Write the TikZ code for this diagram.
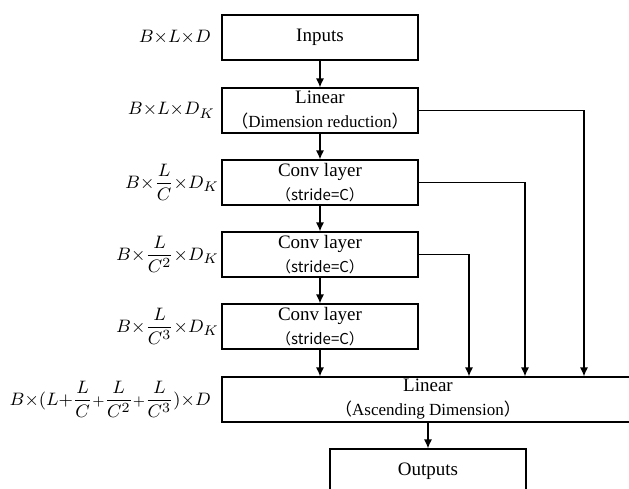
\documentclass[tikz,border=0pt]{standalone}
\usepackage{fontspec}
\setmainfont{Liberation Serif}
\newfontfamily\cjk{Noto Sans CJK SC}
\usepackage{amsmath}
\usetikzlibrary{arrows.meta,positioning}

\newcommand{\tm}{{\times}}

\begin{document}
\begin{tikzpicture}[
    x=0.5pt,y=-0.5pt,
    >={Latex[length=4.5pt,width=4pt]},
    line width=0.6pt,
    every node/.style={font=\fontsize{9.5}{11}\selectfont},
    layer/.style={draw,rectangle,minimum width=98pt,minimum height=22.5pt,
                  align=center,inner sep=0pt},
    shape lab/.style={inner sep=0pt,font=\fontsize{9.5}{11}\selectfont}
]

\useasboundingbox (0,0) rectangle (629,489);
\clip (0,0) rectangle (629,489);

% main column
\node[layer] (inp)  at (320,37.5)  {Inputs};
\node[layer] (lin)  at (320,110.5) {Linear\\[1pt]{\fontsize{8.5}{10}\selectfont\cjk （\rmfamily Dimension reduction\cjk ）}};
\node[layer] (cv1)  at (320,182.5) {Conv layer\\[1pt]{\fontsize{7.5}{10}\selectfont\cjk （stride=C）}};
\node[layer] (cv2)  at (320,254.5) {Conv layer\\[1pt]{\fontsize{7.5}{10}\selectfont\cjk （stride=C）}};
\node[layer] (cv3)  at (320,326.5) {Conv layer\\[1pt]{\fontsize{7.5}{10}\selectfont\cjk （stride=C）}};
\node[layer,minimum width=206pt] (up) at (428,399.5)
    {Linear\\[1pt]{\fontsize{8.5}{10}\selectfont\cjk （\rmfamily Ascending Dimension\cjk ）}};
\node[layer] (out)  at (428,471.5) {Outputs};

% shape labels
\node[shape lab,left=5pt of inp] (s0) {$B\tm L\tm D$};
\node[shape lab,left=3pt of lin] (s1) {$B\tm L\tm D_K$};
\node[shape lab,left=1pt of cv1] (s2) {$B\tm\dfrac{L}{C}\tm D_K$};
\node[shape lab,left=1pt of cv2] (s3) {$B\tm\dfrac{L}{C^2}\tm D_K$};
\node[shape lab,left=1pt of cv3] (s4) {$B\tm\dfrac{L}{C^3}\tm D_K$};
\node[shape lab,left=5pt of up]  (s5)
    {$B\tm(L{+}\dfrac{L}{C}{\scriptstyle+}\dfrac{L}{C^2}{\scriptstyle+}\dfrac{L}{C^3})\tm D$};

% drop points on the top of the ascending layer
\coordinate (d1) at (584,0);
\coordinate (d2) at (525,0);
\coordinate (d3) at (469,0);

% arrows
\draw[->] (inp) -- (lin);
\draw[->] (lin) -- (cv1);
\draw[->] (cv1) -- (cv2);
\draw[->] (cv2) -- (cv3);
\draw[->] (cv3.south) -- (cv3.south |- up.north);
\draw[->] (up.south -| out.north) -- (out.north);

\draw[->] (lin.east) -| (d1 |- up.north);
\draw[->] (cv1.east) -| (d2 |- up.north);
\draw[->] (cv2.east) -| (d3 |- up.north);

\end{tikzpicture}
\end{document}
